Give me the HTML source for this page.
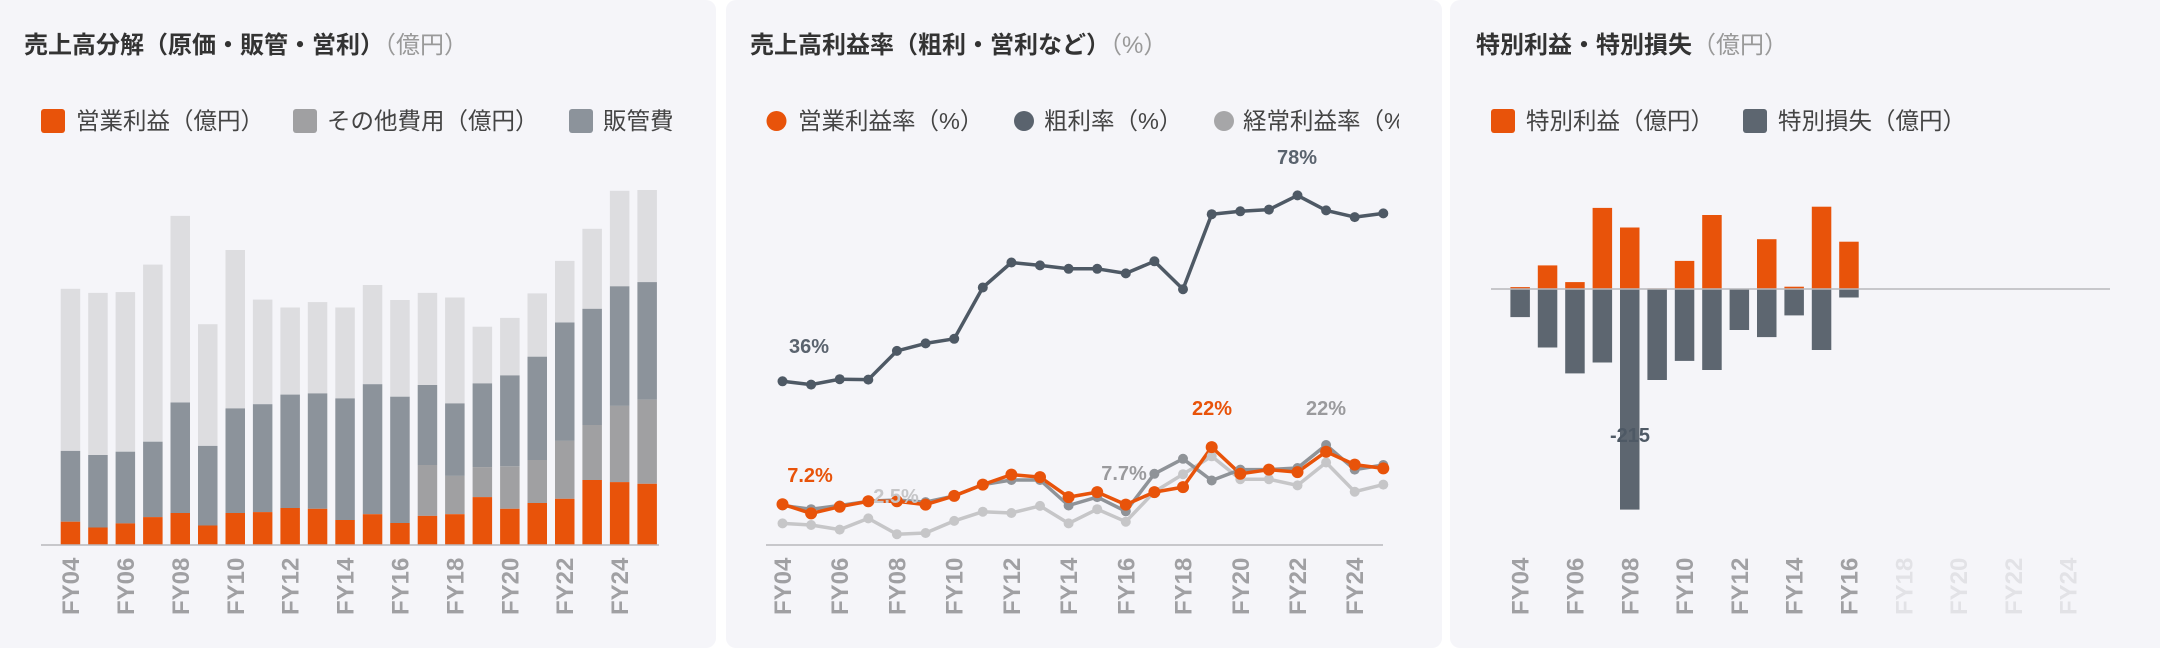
<!DOCTYPE html>
<html><head><meta charset="utf-8"><style>
html,body{margin:0;padding:0;background:#fff;}
svg{display:block;font-family:"Liberation Sans","Noto Sans CJK JP",sans-serif;}
.t{font-size:24px;font-weight:bold;fill:#333;}
.tu{font-size:24px;fill:#999;font-weight:normal;}
.lg{font-size:23.5px;fill:#444;}
.ax{font-size:24px;font-weight:bold;fill:#a0a0a3;}
.axl{font-size:24px;font-weight:bold;fill:#e2e2e6;}
</style></head><body>
<svg width="2160" height="648" viewBox="0 0 2160 648" xmlns="http://www.w3.org/2000/svg">
<rect x="-10" y="0" width="726" height="648" rx="10" fill="#f5f5f9"/>
<rect x="726" y="0" width="716" height="648" rx="10" fill="#f5f5f9"/>
<rect x="1450" y="0" width="720" height="648" rx="10" fill="#f5f5f9"/>

<!-- Panel 1 -->
<text x="24" y="53" class="t">売上高分解（原価・販管・営利）<tspan class="tu">（億円）</tspan></text>
<rect x="41" y="109" width="24" height="24" rx="3" fill="#e8530a"/>
<text x="76" y="129" class="lg">営業利益（億円）</text>
<rect x="293" y="109" width="24" height="24" rx="3" fill="#a0a0a2"/>
<text x="327" y="129" class="lg">その他費用（億円）</text>
<rect x="569" y="109" width="24" height="24" rx="3" fill="#8c939b"/>
<text x="603" y="129" class="lg">販管費</text>
<g>
<g fill="#dddde0">
<rect x="60.7" y="288.8" width="19.5" height="162.1"/>
<rect x="88.2" y="292.9" width="19.5" height="162.1"/>
<rect x="115.6" y="292.1" width="19.5" height="159.6"/>
<rect x="143.1" y="264.6" width="19.5" height="177.1"/>
<rect x="170.5" y="215.9" width="19.5" height="186.6"/>
<rect x="198" y="324.2" width="19.5" height="121.7"/>
<rect x="225.5" y="250" width="19.5" height="158.4"/>
<rect x="252.9" y="299.6" width="19.5" height="104.6"/>
<rect x="280.4" y="307.5" width="19.5" height="87.1"/>
<rect x="307.8" y="302.1" width="19.5" height="91.3"/>
<rect x="335.3" y="307.5" width="19.5" height="90.9"/>
<rect x="362.8" y="285" width="19.5" height="99.2"/>
<rect x="390.2" y="300" width="19.5" height="96.7"/>
<rect x="417.7" y="292.9" width="19.5" height="92.1"/>
<rect x="445.1" y="297.5" width="19.5" height="105.9"/>
<rect x="472.6" y="326.7" width="19.5" height="56.7"/>
<rect x="500.1" y="317.9" width="19.5" height="57.5"/>
<rect x="527.5" y="293.4" width="19.5" height="63.3"/>
<rect x="555" y="260.9" width="19.5" height="61.6"/>
<rect x="582.4" y="228.8" width="19.5" height="80"/>
<rect x="609.9" y="190.8" width="19.5" height="95.5"/>
<rect x="637.4" y="190" width="19.5" height="92.1"/>
</g>
<g fill="#8c939b">
<rect x="60.7" y="450.9" width="19.5" height="70.8"/>
<rect x="88.2" y="455" width="19.5" height="72.5"/>
<rect x="115.6" y="451.7" width="19.5" height="71.7"/>
<rect x="143.1" y="441.7" width="19.5" height="75.4"/>
<rect x="170.5" y="402.5" width="19.5" height="110.5"/>
<rect x="198" y="445.9" width="19.5" height="79.6"/>
<rect x="225.5" y="408.4" width="19.5" height="104.6"/>
<rect x="252.9" y="404.2" width="19.5" height="107.9"/>
<rect x="280.4" y="394.6" width="19.5" height="113.4"/>
<rect x="307.8" y="393.4" width="19.5" height="115.4"/>
<rect x="335.3" y="398.4" width="19.5" height="121.6"/>
<rect x="362.8" y="384.2" width="19.5" height="130"/>
<rect x="390.2" y="396.7" width="19.5" height="126.3"/>
<rect x="417.7" y="385" width="19.5" height="80"/>
<rect x="445.1" y="403.4" width="19.5" height="72.5"/>
<rect x="472.6" y="383.4" width="19.5" height="83.7"/>
<rect x="500.1" y="375.4" width="19.5" height="90.9"/>
<rect x="527.5" y="356.7" width="19.5" height="103.3"/>
<rect x="555" y="322.5" width="19.5" height="118.4"/>
<rect x="582.4" y="308.8" width="19.5" height="116.2"/>
<rect x="609.9" y="286.3" width="19.5" height="119.6"/>
<rect x="637.4" y="282.1" width="19.5" height="117.5"/>
</g>
<g fill="#a0a0a2">
<rect x="417.7" y="465" width="19.5" height="50.9"/>
<rect x="445.1" y="475.9" width="19.5" height="38.3"/>
<rect x="472.6" y="467.1" width="19.5" height="30"/>
<rect x="500.1" y="466.3" width="19.5" height="42.5"/>
<rect x="527.5" y="460" width="19.5" height="43"/>
<rect x="555" y="440.9" width="19.5" height="57.9"/>
<rect x="582.4" y="425" width="19.5" height="55"/>
<rect x="609.9" y="405.9" width="19.5" height="76.2"/>
<rect x="637.4" y="399.6" width="19.5" height="84.2"/>
</g>
<g fill="#e8530a">
<rect x="60.7" y="521.7" width="19.5" height="23.3"/>
<rect x="88.2" y="527.5" width="19.5" height="17.5"/>
<rect x="115.6" y="523.4" width="19.5" height="21.6"/>
<rect x="143.1" y="517.1" width="19.5" height="27.9"/>
<rect x="170.5" y="513" width="19.5" height="32"/>
<rect x="198" y="525.5" width="19.5" height="19.5"/>
<rect x="225.5" y="513" width="19.5" height="32"/>
<rect x="252.9" y="512.1" width="19.5" height="32.9"/>
<rect x="280.4" y="508" width="19.5" height="37"/>
<rect x="307.8" y="508.8" width="19.5" height="36.2"/>
<rect x="335.3" y="520" width="19.5" height="25"/>
<rect x="362.8" y="514.2" width="19.5" height="30.8"/>
<rect x="390.2" y="523" width="19.5" height="22"/>
<rect x="417.7" y="515.9" width="19.5" height="29.1"/>
<rect x="445.1" y="514.2" width="19.5" height="30.8"/>
<rect x="472.6" y="497.1" width="19.5" height="47.9"/>
<rect x="500.1" y="508.8" width="19.5" height="36.2"/>
<rect x="527.5" y="503" width="19.5" height="42"/>
<rect x="555" y="498.8" width="19.5" height="46.2"/>
<rect x="582.4" y="480" width="19.5" height="65"/>
<rect x="609.9" y="482.1" width="19.5" height="62.9"/>
<rect x="637.4" y="483.8" width="19.5" height="61.2"/>
</g>
</g>
<line x1="41" y1="545" x2="659" y2="545" stroke="#b8b8bc" stroke-width="1.5"/>
<g class="ax">
<text transform="translate(79,615) rotate(-90)">FY04</text>
<text transform="translate(134,615) rotate(-90)">FY06</text>
<text transform="translate(189,615) rotate(-90)">FY08</text>
<text transform="translate(244,615) rotate(-90)">FY10</text>
<text transform="translate(298.6,615) rotate(-90)">FY12</text>
<text transform="translate(353.5,615) rotate(-90)">FY14</text>
<text transform="translate(408.5,615) rotate(-90)">FY16</text>
<text transform="translate(463.4,615) rotate(-90)">FY18</text>
<text transform="translate(518.3,615) rotate(-90)">FY20</text>
<text transform="translate(573.2,615) rotate(-90)">FY22</text>
<text transform="translate(628.1,615) rotate(-90)">FY24</text>
</g>

<!-- Panel 2 -->
<text x="750" y="53" class="t">売上高利益率（粗利・営利など）<tspan class="tu">（%）</tspan></text>
<svg x="726" y="0" width="673" height="160" overflow="hidden">
<circle cx="50.5" cy="121" r="10" fill="#e8530a"/>
<text x="72" y="129" class="lg">営業利益率（%）</text>
<circle cx="298" cy="121" r="10" fill="#5a636e"/>
<text x="318" y="129" class="lg">粗利率（%）</text>
<circle cx="498" cy="121" r="10" fill="#a6a6a8"/>
<text x="517" y="129" class="lg">経常利益率（%）</text>
</svg>
<line x1="766" y1="545" x2="1383" y2="545" stroke="#b8b8bc" stroke-width="1.5"/>
<g fill="none" stroke-width="3.5" stroke-linejoin="round">
<polyline stroke="#c6c6c8" points="782.5,523.4 811.1,525 839.7,529.6 868.3,518.4 896.9,534.2 925.6,533 954.2,520.9 982.8,511.7 1011.4,513 1040,505.9 1068.6,523.4 1097.2,509.2 1125.8,521.7 1154.4,491.7 1183,474.2 1211.7,456.3 1240.3,479.2 1268.9,479.2 1297.5,485.4 1326.1,462.5 1354.7,491.7 1383.3,484.6"/>
<polyline stroke="#8f9398" points="782.5,505.5 811.1,509.2 839.7,505.5 868.3,501.3 896.9,500 925.6,502.1 954.2,495.9 982.8,484.6 1011.4,480 1040,480 1068.6,505.5 1097.2,497.1 1125.8,511.3 1154.4,473.8 1183,458.8 1211.7,480.5 1240.3,469.6 1268.9,469.6 1297.5,468 1326.1,445 1354.7,469.6 1383.3,465"/>
<polyline stroke="#4e5965" points="782.5,381.3 811.1,384.6 839.7,379.2 868.3,379.6 896.9,350.9 925.6,343.4 954.2,338.8 982.8,287.5 1011.4,262.5 1040,265.4 1068.6,268.8 1097.2,268.8 1125.8,273.4 1154.4,261.3 1183,289.2 1211.7,214.2 1240.3,211.3 1268.9,209.6 1297.5,195.4 1326.1,210.4 1354.7,217.1 1383.3,213.4"/>
<polyline stroke="#e8530a" points="782.5,504.2 811.1,513.4 839.7,506.7 868.3,501.3 896.9,501.3 925.6,504.6 954.2,495.9 982.8,484.6 1011.4,474.6 1040,477.1 1068.6,497.1 1097.2,492.1 1125.8,504.6 1154.4,492.1 1183,487.1 1211.7,447.1 1240.3,473.8 1268.9,469.6 1297.5,472.1 1326.1,451.7 1354.7,464.6 1383.3,468.4"/>
</g>
<g fill="#c6c6c8">
<circle cx="782.5" cy="523.4" r="5"/><circle cx="811.1" cy="525" r="5"/><circle cx="839.7" cy="529.6" r="5"/><circle cx="868.3" cy="518.4" r="5"/><circle cx="896.9" cy="534.2" r="5"/><circle cx="925.6" cy="533" r="5"/><circle cx="954.2" cy="520.9" r="5"/><circle cx="982.8" cy="511.7" r="5"/><circle cx="1011.4" cy="513" r="5"/><circle cx="1040" cy="505.9" r="5"/><circle cx="1068.6" cy="523.4" r="5"/><circle cx="1097.2" cy="509.2" r="5"/><circle cx="1125.8" cy="521.7" r="5"/><circle cx="1154.4" cy="491.7" r="5"/><circle cx="1183" cy="474.2" r="5"/><circle cx="1211.7" cy="456.3" r="5"/><circle cx="1240.3" cy="479.2" r="5"/><circle cx="1268.9" cy="479.2" r="5"/><circle cx="1297.5" cy="485.4" r="5"/><circle cx="1326.1" cy="462.5" r="5"/><circle cx="1354.7" cy="491.7" r="5"/><circle cx="1383.3" cy="484.6" r="5"/>
</g>
<g fill="#8f9398">
<circle cx="782.5" cy="505.5" r="5"/><circle cx="811.1" cy="509.2" r="5"/><circle cx="839.7" cy="505.5" r="5"/><circle cx="868.3" cy="501.3" r="5"/><circle cx="896.9" cy="500" r="5"/><circle cx="925.6" cy="502.1" r="5"/><circle cx="954.2" cy="495.9" r="5"/><circle cx="982.8" cy="484.6" r="5"/><circle cx="1011.4" cy="480" r="5"/><circle cx="1040" cy="480" r="5"/><circle cx="1068.6" cy="505.5" r="5"/><circle cx="1097.2" cy="497.1" r="5"/><circle cx="1125.8" cy="511.3" r="5"/><circle cx="1154.4" cy="473.8" r="5"/><circle cx="1183" cy="458.8" r="5"/><circle cx="1211.7" cy="480.5" r="5"/><circle cx="1240.3" cy="469.6" r="5"/><circle cx="1268.9" cy="469.6" r="5"/><circle cx="1297.5" cy="468" r="5"/><circle cx="1326.1" cy="445" r="5"/><circle cx="1354.7" cy="469.6" r="5"/><circle cx="1383.3" cy="465" r="5"/>
</g>
<g fill="#4e5965">
<circle cx="782.5" cy="381.3" r="5"/><circle cx="811.1" cy="384.6" r="5"/><circle cx="839.7" cy="379.2" r="5"/><circle cx="868.3" cy="379.6" r="5"/><circle cx="896.9" cy="350.9" r="5"/><circle cx="925.6" cy="343.4" r="5"/><circle cx="954.2" cy="338.8" r="5"/><circle cx="982.8" cy="287.5" r="5"/><circle cx="1011.4" cy="262.5" r="5"/><circle cx="1040" cy="265.4" r="5"/><circle cx="1068.6" cy="268.8" r="5"/><circle cx="1097.2" cy="268.8" r="5"/><circle cx="1125.8" cy="273.4" r="5"/><circle cx="1154.4" cy="261.3" r="5"/><circle cx="1183" cy="289.2" r="5"/><circle cx="1211.7" cy="214.2" r="5"/><circle cx="1240.3" cy="211.3" r="5"/><circle cx="1268.9" cy="209.6" r="5"/><circle cx="1297.5" cy="195.4" r="5"/><circle cx="1326.1" cy="210.4" r="5"/><circle cx="1354.7" cy="217.1" r="5"/><circle cx="1383.3" cy="213.4" r="5"/>
</g>
<g fill="#e8530a">
<circle cx="782.5" cy="504.2" r="6"/><circle cx="811.1" cy="513.4" r="6"/><circle cx="839.7" cy="506.7" r="6"/><circle cx="868.3" cy="501.3" r="6"/><circle cx="896.9" cy="501.3" r="6"/><circle cx="925.6" cy="504.6" r="6"/><circle cx="954.2" cy="495.9" r="6"/><circle cx="982.8" cy="484.6" r="6"/><circle cx="1011.4" cy="474.6" r="6"/><circle cx="1040" cy="477.1" r="6"/><circle cx="1068.6" cy="497.1" r="6"/><circle cx="1097.2" cy="492.1" r="6"/><circle cx="1125.8" cy="504.6" r="6"/><circle cx="1154.4" cy="492.1" r="6"/><circle cx="1183" cy="487.1" r="6"/><circle cx="1211.7" cy="447.1" r="6"/><circle cx="1240.3" cy="473.8" r="6"/><circle cx="1268.9" cy="469.6" r="6"/><circle cx="1297.5" cy="472.1" r="6"/><circle cx="1326.1" cy="451.7" r="6"/><circle cx="1354.7" cy="464.6" r="6"/><circle cx="1383.3" cy="468.4" r="6"/>
</g>
<g font-size="20" font-weight="bold" text-anchor="middle">
<text x="809" y="353" fill="#5a636e">36%</text>
<text x="1297" y="164" fill="#5a636e">78%</text>
<text x="1212" y="415" fill="#e8530a">22%</text>
<text x="1326" y="415" fill="#9a9a9d">22%</text>
<text x="810" y="482" fill="#e8530a">7.2%</text>
<text x="1124" y="480" fill="#9a9a9d">7.7%</text>
<text x="896" y="503" fill="#c6c6c8">2.5%</text>
</g>
<g class="ax">
<text transform="translate(791,615) rotate(-90)">FY04</text>
<text transform="translate(848.2,615) rotate(-90)">FY06</text>
<text transform="translate(905.4,615) rotate(-90)">FY08</text>
<text transform="translate(962.7,615) rotate(-90)">FY10</text>
<text transform="translate(1019.9,615) rotate(-90)">FY12</text>
<text transform="translate(1077.1,615) rotate(-90)">FY14</text>
<text transform="translate(1134.3,615) rotate(-90)">FY16</text>
<text transform="translate(1191.5,615) rotate(-90)">FY18</text>
<text transform="translate(1248.8,615) rotate(-90)">FY20</text>
<text transform="translate(1306,615) rotate(-90)">FY22</text>
<text transform="translate(1363.2,615) rotate(-90)">FY24</text>
</g>

<!-- Panel 3 -->
<text x="1476" y="53" class="t">特別利益・特別損失<tspan class="tu">（億円）</tspan></text>
<rect x="1491" y="109" width="24" height="24" rx="3" fill="#e8530a"/>
<text x="1526" y="129" class="lg">特別利益（億円）</text>
<rect x="1743" y="109" width="24" height="24" rx="3" fill="#5d6670"/>
<text x="1778" y="129" class="lg">特別損失（億円）</text>
<g fill="#e8530a">
<rect x="1510.4" y="287.1" width="19.5" height="1.9"/>
<rect x="1537.8" y="265.4" width="19.5" height="23.6"/>
<rect x="1565.2" y="282.1" width="19.5" height="6.9"/>
<rect x="1592.6" y="207.9" width="19.5" height="81.1"/>
<rect x="1620" y="227.5" width="19.5" height="61.5"/>
<rect x="1647.4" y="288.4" width="19.5" height="0.6"/>
<rect x="1674.8" y="260.9" width="19.5" height="28.1"/>
<rect x="1702.2" y="215" width="19.5" height="74"/>
<rect x="1757" y="239.2" width="19.5" height="49.8"/>
<rect x="1784.4" y="286.7" width="19.5" height="2.3"/>
<rect x="1811.8" y="206.7" width="19.5" height="82.3"/>
<rect x="1839.2" y="241.7" width="19.5" height="47.3"/>
</g>
<g fill="#5d6670">
<rect x="1510.4" y="289" width="19.5" height="28.1"/>
<rect x="1537.8" y="289" width="19.5" height="58.5"/>
<rect x="1565.2" y="289" width="19.5" height="84.4"/>
<rect x="1592.6" y="289" width="19.5" height="73.5"/>
<rect x="1620" y="289" width="19.5" height="220.6"/>
<rect x="1647.4" y="289" width="19.5" height="91"/>
<rect x="1674.8" y="289" width="19.5" height="71.9"/>
<rect x="1702.2" y="289" width="19.5" height="81"/>
<rect x="1729.6" y="289" width="19.5" height="41"/>
<rect x="1757" y="289" width="19.5" height="48.1"/>
<rect x="1784.4" y="289" width="19.5" height="26.4"/>
<rect x="1811.8" y="289" width="19.5" height="61"/>
<rect x="1839.2" y="289" width="19.5" height="8.5"/>
</g>
<line x1="1491" y1="289" x2="2110" y2="289" stroke="#b8b8bc" stroke-width="1.5"/>
<text x="1630" y="442" font-size="20" font-weight="bold" fill="#4e5965" text-anchor="middle">-215</text>
<g class="ax">
<text transform="translate(1528.7,615) rotate(-90)">FY04</text>
<text transform="translate(1583.5,615) rotate(-90)">FY06</text>
<text transform="translate(1638.3,615) rotate(-90)">FY08</text>
<text transform="translate(1693.1,615) rotate(-90)">FY10</text>
<text transform="translate(1747.9,615) rotate(-90)">FY12</text>
<text transform="translate(1802.7,615) rotate(-90)">FY14</text>
<text transform="translate(1857.5,615) rotate(-90)">FY16</text>
</g>
<g class="axl">
<text transform="translate(1912.3,615) rotate(-90)">FY18</text>
<text transform="translate(1967.1,615) rotate(-90)">FY20</text>
<text transform="translate(2021.9,615) rotate(-90)">FY22</text>
<text transform="translate(2076.7,615) rotate(-90)">FY24</text>
</g>
</svg>
</body></html>
